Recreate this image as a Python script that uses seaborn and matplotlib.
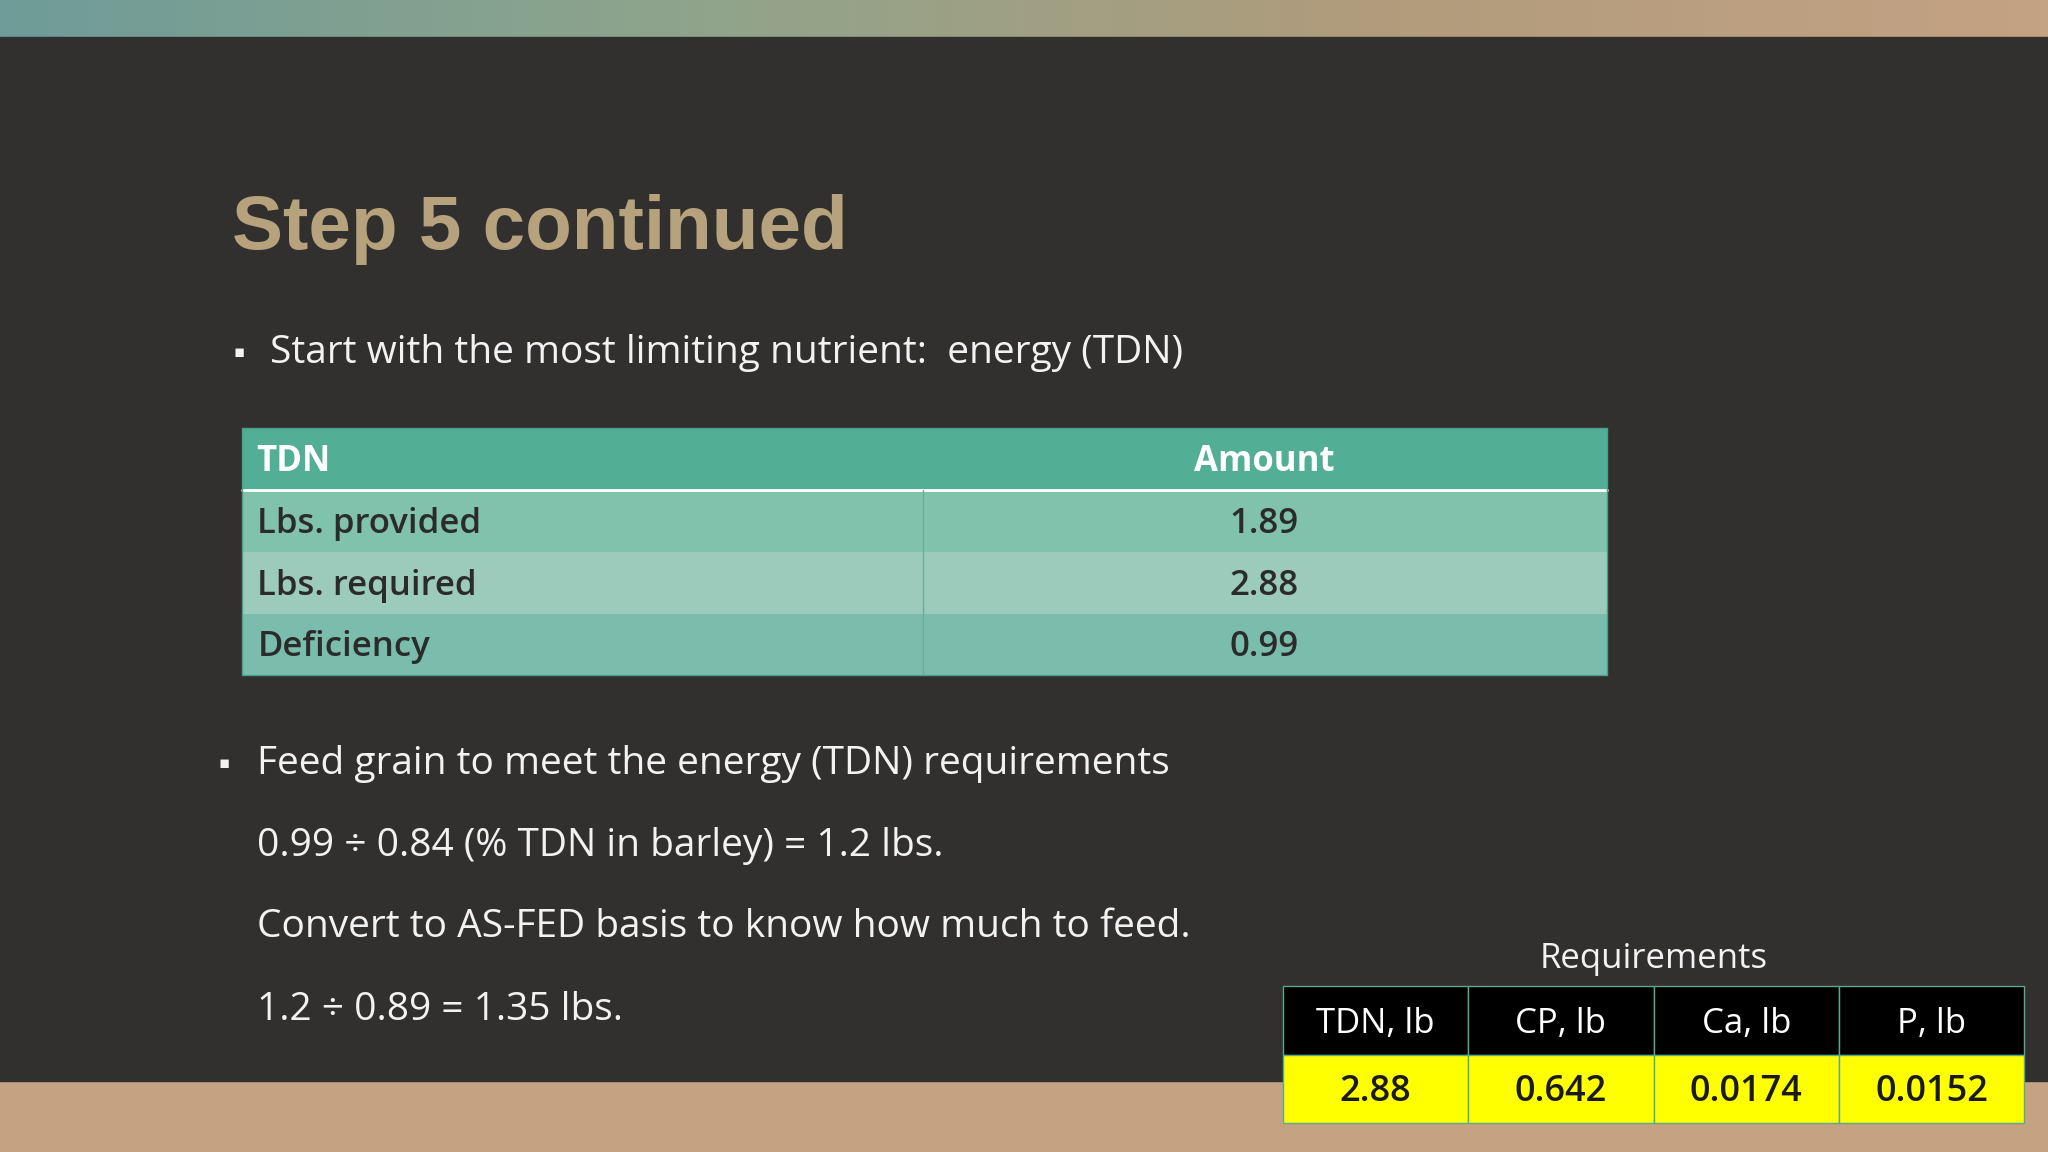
import matplotlib.pyplot as plt
import matplotlib.patches as mpatches
from matplotlib.colors import LinearSegmentedColormap
import seaborn as sns
import numpy as np

sns.set_theme(style="white")
plt.rcParams['font.family'] = ['Open Sans', 'DejaVu Sans']

# data
title = "Step 5 continued"
tdn_header = ["TDN", "Amount"]
tdn_rows = ["Lbs. provided", "Lbs. required", "Deficiency"]
tdn_values = ["1.89", "2.88", "0.99"]
req_cols = ["TDN, lb", "CP, lb", "Ca, lb", "P, lb"]
req_values = ["2.88", "0.642", "0.0174", "0.0152"]
bullet1 = "Start with the most limiting nutrient:  energy (TDN)"
bullet2 = "Feed grain to meet the energy (TDN) requirements"
lines = ["0.99 ÷ 0.84 (% TDN in barley) = 1.2 lbs.",
         "Convert to AS-FED basis to know how much to feed.",
         "1.2 ÷ 0.89 = 1.35 lbs."]

W, H = 1568, 882  # layout in reference pixels
fig = plt.figure(figsize=(20.48, 11.52), dpi=100)
bg = fig.add_axes([0, 0, 1, 1])
bg.set_xlim(0, W)
bg.set_ylim(H, 0)
bg.axis("off")

# background strips
grad = np.linspace(0, 1, 256).reshape(1, -1)
top_cmap = LinearSegmentedColormap.from_list("t", ["#6f9c98", "#8fa48c", "#b09c7c", "#c4a284"])
bg.imshow(grad, extent=[0, W, 28, 0], cmap=top_cmap, aspect="auto")
bg.add_patch(mpatches.Rectangle((0, 828), W, 54, color="#c5a382"))
bg.add_patch(mpatches.Rectangle((0, 28), W, 800, color="#32302f"))

bg.text(178, 176, title, fontsize=55, fontweight="bold", color="#b6a27c", va="center",
        family=["Liberation Sans", "DejaVu Sans"])

txt = "#f2f2f2"
fs = 28
bg.text(179, 270, "▪", fontsize=12, color=txt, va="center")
bg.text(207, 270, bullet1, fontsize=fs, fontweight=500, color=txt, va="center")
bg.text(167, 585, "▪", fontsize=12, color=txt, va="center")
bg.text(197, 585, bullet2, fontsize=fs, fontweight=500, color=txt, va="center")
for y, s in zip([648, 710, 773], lines):
    bg.text(197, y, s, fontsize=fs, fontweight=500, color=txt, va="center")

# TDN table
x0, x1, xs = 185, 1230, 707
row_y = [328, 375, 423, 470, 517]
row_colors = ["#52ae94", "#80c2ac", "#9ccabb", "#7bbdad"]
for i, c in enumerate(row_colors):
    bg.add_patch(mpatches.Rectangle((x0, row_y[i]), x1 - x0, row_y[i + 1] - row_y[i],
                                    facecolor=c, edgecolor="none"))
bg.plot([x0, x1], [375, 375], color="white", lw=2)
bg.plot([xs, xs], [375, 517], color="#6aae9a", lw=1)
bg.plot([x0, x1, x1, x0, x0], [328, 328, 517, 517, 328], color="#4a9f88", lw=1)
ymid = lambda i: (row_y[i] + row_y[i + 1]) / 2 + 2
bg.text(196, ymid(0), tdn_header[0], fontsize=25, fontweight="bold", color="white", va="center")
bg.text(968, ymid(0), tdn_header[1], fontsize=25, fontweight="bold", color="white", va="center", ha="center")
for i, (r, v) in enumerate(zip(tdn_rows, tdn_values), start=1):
    bg.text(197, ymid(i), r, fontsize=25, fontweight=600, color="#2b2b2b", va="center")
    bg.text(968, ymid(i), v, fontsize=25, fontweight=600, color="#2b2b2b", va="center", ha="center")

# Requirements table
rx0, rx1 = 982, 1550
cw = (rx1 - rx0) / len(req_cols)
bg.text((rx0 + rx1) / 2, 734, "Requirements", fontsize=25, fontweight=500, color=txt, ha="center", va="center")
for j, (c, v) in enumerate(zip(req_cols, req_values)):
    x = rx0 + j * cw
    bg.add_patch(mpatches.Rectangle((x, 755), cw, 53, facecolor="black", edgecolor="#5aa890", lw=1))
    bg.add_patch(mpatches.Rectangle((x, 808), cw, 52, facecolor="#ffff00", edgecolor="#5aa890", lw=1))
    bg.text(x + cw / 2, 784, c, fontsize=25, fontweight=500, color="white", ha="center", va="center")
    bg.text(x + cw / 2, 836, v, fontsize=26, fontweight=600, color="#1a1a1a", ha="center", va="center")

fig.savefig("out.png", dpi=100)
